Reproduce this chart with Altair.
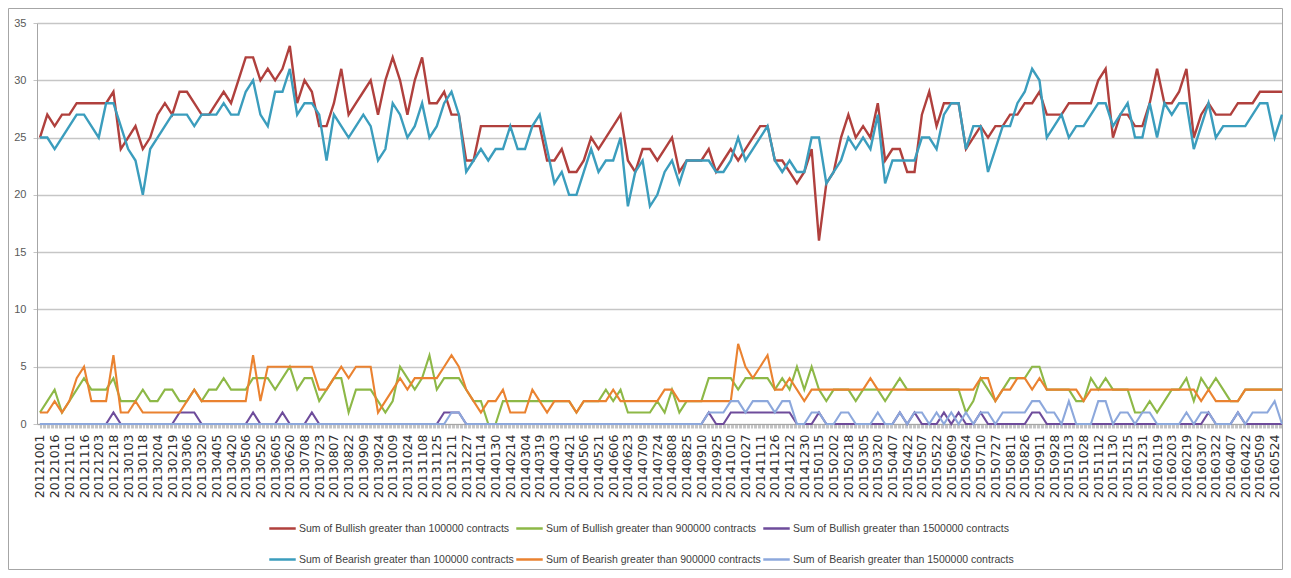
import json
import altair as alt
import pandas as pd

# x-axis category labels (one every second data step)
date_labels = [
    "20121001", "20121016", "20121101", "20121116", "20121203", "20121218",
    "20130103", "20130118", "20130204", "20130219", "20130306", "20130320",
    "20130405", "20130420", "20130506", "20130520", "20130605", "20130620",
    "20130708", "20130723", "20130807", "20130822", "20130909", "20130924",
    "20131009", "20131024", "20131108", "20131125", "20131211", "20131227",
    "20140114", "20140130", "20140214", "20140304", "20140319", "20140403",
    "20140421", "20140506", "20140521", "20140606", "20140623", "20140709",
    "20140724", "20140808", "20140825", "20140910", "20140925", "20141010",
    "20141027", "20141111", "20141126", "20141212", "20141230", "20150115",
    "20150202", "20150218", "20150305", "20150320", "20150407", "20150422",
    "20150507", "20150522", "20150609", "20150624", "20150710", "20150727",
    "20150811", "20150826", "20150911", "20150928", "20151013", "20151028",
    "20151112", "20151130", "20151215", "20151231", "20160119", "20160203",
    "20160219", "20160307", "20160322", "20160407", "20160422", "20160509",
    "20160524",
]

bull_100k = [
    25, 27, 26, 27, 27, 28, 28, 28, 28, 28,
    29, 24, 25, 26, 24, 25, 27, 28, 27, 29,
    29, 28, 27, 27, 28, 29, 28, 30, 32, 32,
    30, 31, 30, 31, 33, 28, 30, 29, 26, 26,
    28, 31, 27, 28, 29, 30, 27, 30, 32, 30,
    27, 30, 32, 28, 28, 29, 27, 27, 23, 23,
    26, 26, 26, 26, 26, 26, 26, 26, 26, 23,
    23, 24, 22, 22, 23, 25, 24, 25, 26, 27,
    23, 22, 24, 24, 23, 24, 25, 22, 23, 23,
    23, 24, 22, 23, 24, 23, 24, 25, 26, 26,
    23, 23, 22, 21, 22, 24, 16, 21, 22, 25,
    27, 25, 26, 25, 28, 23, 24, 24, 22, 22,
    27, 29, 26, 28, 28, 28, 24, 25, 26, 25,
    26, 26, 27, 27, 28, 28, 29, 27, 27, 27,
    28, 28, 28, 28, 30, 31, 25, 27, 27, 26,
    26, 28, 31, 28, 28, 29, 31, 25, 27, 28,
    27, 27, 27, 28, 28, 28, 29, 29, 29, 29,
]

bull_900k = [
    1, 2, 3, 1, 2, 3, 4, 3, 3, 3,
    4, 2, 2, 2, 3, 2, 2, 3, 3, 2,
    2, 3, 2, 3, 3, 4, 3, 3, 3, 4,
    4, 4, 3, 4, 5, 3, 4, 4, 2, 3,
    4, 4, 1, 3, 3, 3, 2, 1, 2, 5,
    4, 3, 4, 6, 3, 4, 4, 4, 3, 2,
    2, 0, 0, 2, 2, 2, 2, 2, 2, 2,
    2, 2, 2, 1, 2, 2, 2, 3, 2, 3,
    1, 1, 1, 1, 2, 1, 3, 1, 2, 2,
    2, 4, 4, 4, 4, 3, 4, 4, 4, 4,
    3, 4, 3, 5, 3, 5, 3, 2, 3, 3,
    3, 2, 3, 3, 3, 2, 3, 4, 3, 3,
    3, 3, 3, 3, 3, 3, 1, 2, 4, 3,
    2, 3, 4, 4, 4, 5, 5, 3, 3, 3,
    3, 2, 2, 4, 3, 4, 3, 3, 3, 1,
    1, 2, 1, 2, 3, 3, 4, 2, 4, 3,
    4, 3, 2, 2, 3, 3, 3, 3, 3, 3,
]

bull_1500k = [
    0, 0, 0, 0, 0, 0, 0, 0, 0, 0,
    1, 0, 0, 0, 0, 0, 0, 0, 0, 1,
    1, 1, 0, 0, 0, 0, 0, 0, 0, 1,
    0, 0, 0, 1, 0, 0, 0, 1, 0, 0,
    0, 0, 0, 0, 0, 0, 0, 0, 0, 0,
    0, 0, 0, 0, 0, 1, 1, 1, 0, 0,
    0, 0, 0, 0, 0, 0, 0, 0, 0, 0,
    0, 0, 0, 0, 0, 0, 0, 0, 0, 0,
    0, 0, 0, 0, 0, 0, 0, 0, 0, 0,
    0, 1, 0, 0, 1, 1, 1, 1, 1, 1,
    1, 1, 1, 0, 0, 0, 1, 0, 0, 0,
    0, 0, 0, 0, 0, 0, 0, 1, 0, 1,
    0, 0, 0, 1, 0, 1, 0, 0, 1, 0,
    0, 0, 0, 0, 0, 1, 1, 0, 0, 0,
    0, 0, 0, 0, 0, 0, 0, 0, 0, 0,
    0, 0, 0, 0, 0, 0, 0, 0, 0, 1,
    0, 0, 0, 1, 0, 0, 0, 0, 0, 0,
]

bear_100k = [
    25, 25, 24, 25, 26, 27, 27, 26, 25, 28,
    28, 26, 24, 23, 20, 24, 25, 26, 27, 27,
    27, 26, 27, 27, 27, 28, 27, 27, 29, 30,
    27, 26, 29, 29, 31, 27, 28, 28, 27, 23,
    27, 26, 25, 26, 27, 26, 23, 24, 28, 27,
    25, 26, 28, 25, 26, 28, 29, 27, 22, 23,
    24, 23, 24, 24, 26, 24, 24, 26, 27, 24,
    21, 22, 20, 20, 22, 24, 22, 23, 23, 25,
    19, 22, 23, 19, 20, 22, 23, 21, 23, 23,
    23, 23, 22, 22, 23, 25, 23, 24, 25, 26,
    23, 22, 23, 22, 22, 25, 25, 21, 22, 23,
    25, 24, 25, 24, 27, 21, 23, 23, 23, 23,
    25, 25, 24, 27, 28, 28, 24, 26, 26, 22,
    24, 26, 26, 28, 29, 31, 30, 25, 26, 27,
    25, 26, 26, 27, 28, 28, 26, 27, 28, 25,
    25, 28, 25, 28, 27, 28, 28, 24, 26, 28,
    25, 26, 26, 26, 26, 27, 28, 28, 25, 27,
]

bear_900k = [
    1, 1, 2, 1, 2, 4, 5, 2, 2, 2,
    6, 1, 1, 2, 1, 1, 1, 1, 1, 1,
    2, 3, 2, 2, 2, 2, 2, 2, 2, 6,
    2, 5, 5, 5, 5, 5, 5, 5, 3, 3,
    4, 5, 4, 5, 5, 5, 1, 2, 3, 4,
    3, 4, 4, 4, 4, 5, 6, 5, 3, 2,
    1, 2, 2, 3, 1, 1, 1, 3, 2, 1,
    2, 2, 2, 1, 2, 2, 2, 2, 3, 2,
    2, 2, 2, 2, 2, 3, 3, 2, 2, 2,
    2, 2, 2, 2, 2, 7, 5, 4, 5, 6,
    3, 3, 4, 3, 2, 3, 3, 3, 3, 3,
    3, 3, 3, 4, 3, 3, 3, 3, 3, 3,
    3, 3, 3, 3, 3, 3, 3, 3, 4, 4,
    2, 3, 3, 4, 4, 3, 4, 3, 3, 3,
    3, 3, 2, 3, 3, 3, 3, 3, 3, 3,
    3, 3, 3, 3, 3, 3, 3, 3, 2, 3,
    2, 2, 2, 2, 3, 3, 3, 3, 3, 3,
]

bear_1500k = [
    0, 0, 0, 0, 0, 0, 0, 0, 0, 0,
    0, 0, 0, 0, 0, 0, 0, 0, 0, 0,
    0, 0, 0, 0, 0, 0, 0, 0, 0, 0,
    0, 0, 0, 0, 0, 0, 0, 0, 0, 0,
    0, 0, 0, 0, 0, 0, 0, 0, 0, 0,
    0, 0, 0, 0, 0, 0, 1, 1, 0, 0,
    0, 0, 0, 0, 0, 0, 0, 0, 0, 0,
    0, 0, 0, 0, 0, 0, 0, 0, 0, 0,
    0, 0, 0, 0, 0, 0, 0, 0, 0, 0,
    0, 1, 1, 1, 2, 2, 1, 2, 2, 2,
    1, 2, 2, 0, 0, 1, 1, 0, 0, 1,
    1, 0, 0, 0, 1, 0, 0, 1, 0, 1,
    1, 0, 1, 0, 1, 0, 1, 0, 1, 1,
    0, 1, 1, 1, 1, 2, 2, 1, 1, 0,
    2, 0, 0, 0, 2, 2, 0, 1, 1, 0,
    1, 1, 0, 0, 0, 0, 1, 0, 1, 1,
    0, 0, 0, 1, 0, 1, 1, 1, 2, 0,
]

series_names = [
    "Sum of Bullish greater than 100000 contracts",
    "Sum of Bullish greater than 900000 contracts",
    "Sum of Bullish greater than 1500000 contracts",
    "Sum of Bearish greater than 100000 contracts",
    "Sum of Bearish greater than 900000 contracts",
    "Sum of Bearish greater than 1500000 contracts",
]
series_colors = ["#B0403D", "#8DB847", "#6E4C9B", "#3B9DBD", "#EA8230", "#8DA8DC"]
series_values = [bull_100k, bull_900k, bull_1500k, bear_100k, bear_900k, bear_1500k]

rows = []
for name, vals in zip(series_names, series_values):
    for i, v in enumerate(vals):
        rows.append({"pos": i / 2, "value": v, "series": name})
df = pd.DataFrame(rows)

W, H = 1245, 401
x_scale = alt.Scale(domain=[-0.2, 84.5], nice=False, zero=False)
y_scale = alt.Scale(domain=[0, 35], nice=False)
color_scale = alt.Scale(domain=series_names, range=series_colors)

tick_positions = [k + j / 11 for k in range(len(date_labels)) for j in range(11)]
label_expr = ("datum.value % 1 === 0 ? " + json.dumps(date_labels) +
              "[datum.value] : ''")

x_axis = alt.Axis(
    values=tick_positions, labelExpr=label_expr, labelAngle=-90,
    labelFont="DejaVu Sans", labelFontSize=12.5, labelColor="#2E2E2E",
    labelOverlap=False, labelFlush=False, labelBound=False, labelPadding=6,
    tickSize=4, tickColor="#C4C4C4", tickWidth=1,
    domain=True, domainColor="#A6A6A6", grid=False, title=None,
)
y_axis = alt.Axis(
    values=[0, 5, 10, 15, 20, 25, 30, 35], labelFont="Liberation Sans",
    labelFontSize=11, labelColor="#595959", labelPadding=7, labelFlush=False,
    tickSize=4, tickColor="#C4C4C4", domainColor="#A6A6A6",
    grid=True, gridColor="#C6C6C6", gridWidth=1.5, title=None,
)
legend = alt.Legend(
    orient="none", legendX=231, legendY=491, direction="horizontal", columns=3,
    symbolType="stroke", symbolSize=700, symbolStrokeWidth=2.5,
    labelFont="Liberation Sans", labelFontSize=10.5, labelColor="#404040",
    labelOffset=2, labelLimit=400, columnPadding=-3, rowPadding=11,
    padding=0, title=None,
)

frame = alt.Chart(alt.Data(values=[{"frame": 1}])).mark_rect(
    fillOpacity=0, stroke="#A6A6A6", strokeWidth=1
).encode(
    x=alt.value(-28.5), x2=alt.value(1245.5), y=alt.value(-14.5), y2=alt.value(546.5)
)

layers = [frame]
for idx, name in enumerate(series_names):
    width = 2.4 if "100000" in name else 2.1
    enc = dict(
        x=alt.X("pos:Q", scale=x_scale, axis=x_axis),
        y=alt.Y("value:Q", scale=y_scale, axis=y_axis),
        color=alt.Color("series:N", scale=color_scale, legend=legend),
    )
    layers.append(
        alt.Chart(df).transform_filter(alt.datum.series == name)
        .mark_line(strokeWidth=width, interpolate="linear").encode(**enc)
    )

chart = alt.layer(*layers).properties(
    width=W, height=H,
    autosize=alt.AutoSizeParams(type="none"),
    padding={"left": 29, "top": 15, "right": 1, "bottom": 146},
    background="white",
).configure_view(stroke=None)

chart.save("out.html", embed_options={"renderer": "svg", "actions": False})
